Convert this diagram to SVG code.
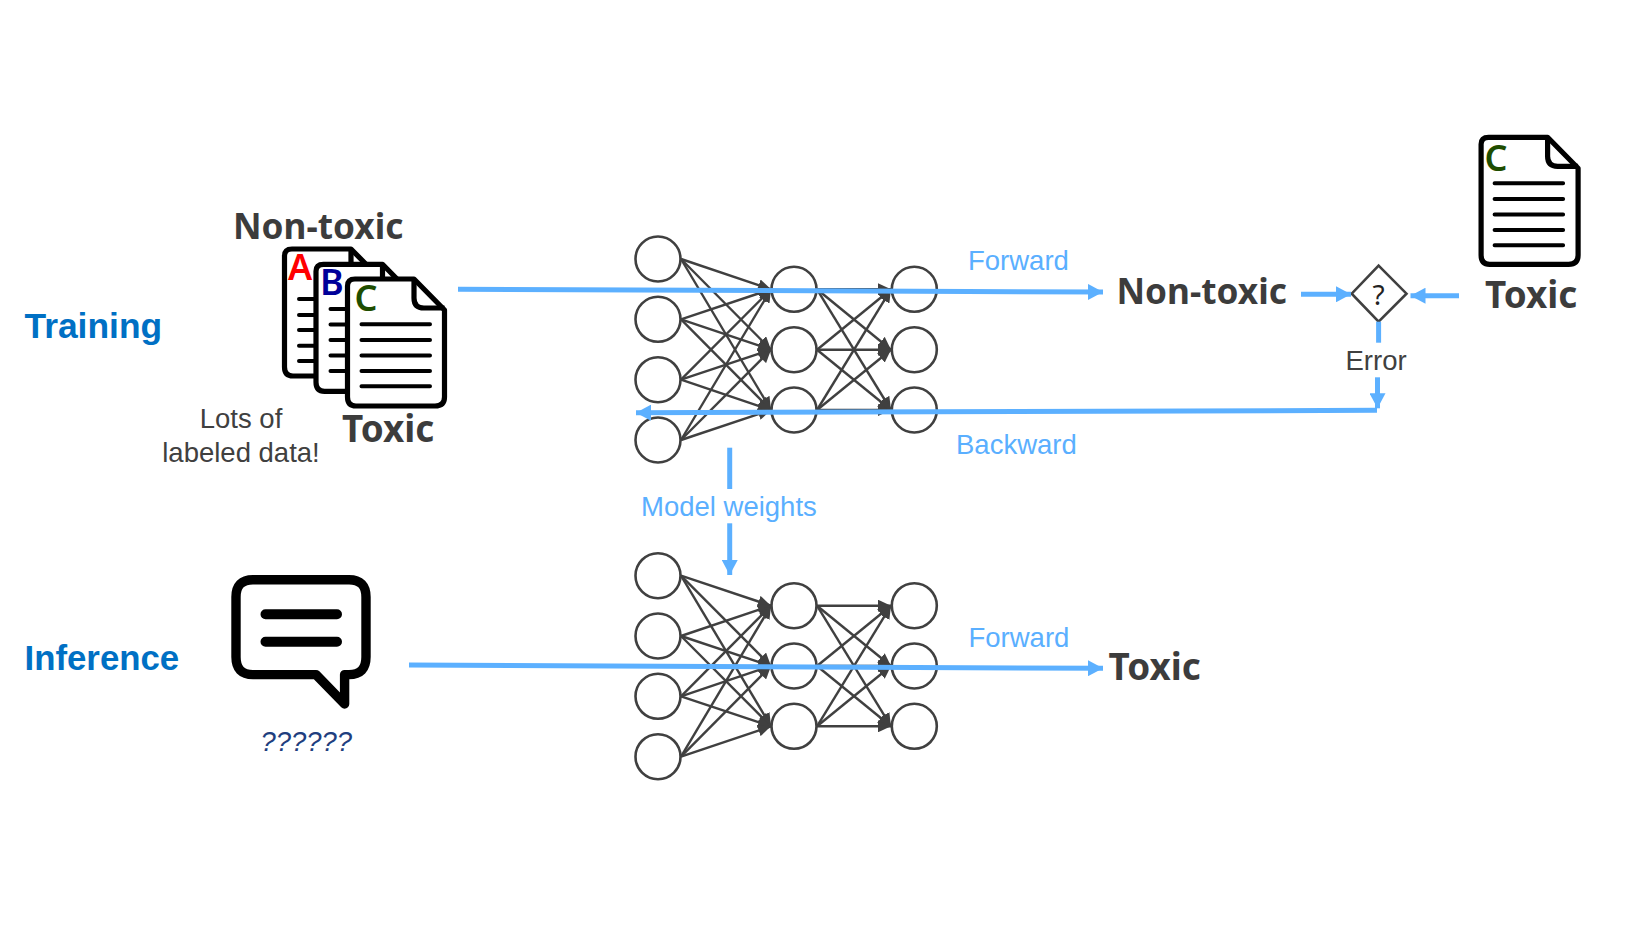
<svg xmlns="http://www.w3.org/2000/svg" width="1648" height="927" viewBox="0 0 1648 927">
<style>
.ph{font-family:"Liberation Sans",Arial,sans-serif;font-weight:700;font-size:34.800px;fill:#0070c4}
.lbl{font-family:"Noto Sans",sans-serif;font-weight:700;font-size:35.200px;fill:#3c3c3c}
.tx{font-size:36.800px}
.blue{font-family:"Liberation Sans",Arial,sans-serif;font-size:27.500px;fill:#5aafff}
.grey{font-family:"Liberation Sans",Arial,sans-serif;font-size:27.500px;fill:#404040}
.letter{font-family:"Noto Sans",sans-serif;font-size:36px;font-weight:600}
.n{fill:#fff;stroke:#404040;stroke-width:2.600}
.e{stroke:#404040;stroke-width:2.400;fill:none;marker-end:url(#ah)}
.f{stroke:#5cb0ff;stroke-width:5;fill:none}
.fa{marker-end:url(#bh)}
.doc{fill:#fff;stroke:#000;stroke-width:5.200;stroke-linejoin:round}
.dl{stroke:#000;stroke-width:4;stroke-linecap:round;fill:none}
</style>
<defs>
<marker id="ah" markerUnits="userSpaceOnUse" markerWidth="13" markerHeight="12" refX="13" refY="6" orient="auto"><path d="M0 0L13 6L0 12z" fill="#404040"/></marker>
<marker id="bh" markerUnits="userSpaceOnUse" markerWidth="15" markerHeight="16" refX="15" refY="8" orient="auto"><path d="M0 0L15 8L0 16z" fill="#5cb0ff"/></marker>
<path id="page" class="doc" d="M355 279H414L444.500 310V397Q444.500 406 435 406H356Q347.500 406 347.500 397V286Q347.500 279 355 279Z"/>
<path id="fold" d="M414 279V298Q414 308 424 308H444.500" fill="none" stroke="#000" stroke-width="5.200"/>
<path id="lines" class="dl" d="M361.500 324.300H430M361.500 340H430M361.500 355.500H430M361.500 371H430M361.500 386.300H430"/>
</defs>
<rect width="1648" height="927" fill="#fff"/>

<g id="training-label"><text class="ph" x="24.500" y="338" style="font-size:35.400px">Training</text></g>
<g id="inference-label"><text class="ph" x="24.500" y="670.300">Inference</text></g>

<g id="doc-a"><use href="#page" transform="translate(-63 -30)"/><use href="#fold" transform="translate(-63 -30)"/><path class="dl" d="M299 299H329M299 315H329M299 330H329M299 345.700H329M299 361H329"/><text class="letter" x="288" y="280" fill="#ff0000">A</text></g>
<g id="doc-b"><use href="#page" transform="translate(-31.500 -14.700)"/><use href="#fold" transform="translate(-31.500 -14.700)"/><path class="dl" d="M330.500 309H360M330.500 324.500H360M330.500 340H360M330.500 355.500H360M330.500 371H360"/><text class="letter" x="320" y="295" fill="#000099">B</text></g>
<g id="doc-c"><use href="#page"/><use href="#fold"/><use href="#lines"/><text class="letter" x="354.500" y="311" fill="#1e4d00">C</text></g>
<g id="doc-target"><use href="#page" transform="translate(1133.600 -141.700)"/><use href="#fold" transform="translate(1133.600 -141.700)"/><use href="#lines" transform="translate(1133.100 -141)"/><text class="letter" x="1484.500" y="171" fill="#1e4d00">C</text></g>

<text class="lbl" x="233" y="239">Non-toxic</text>
<text class="lbl tx" x="342" y="441.500">Toxic</text>
<text class="grey" x="241" y="427.500" text-anchor="middle">Lots of</text>
<text class="grey" x="241" y="461.500" text-anchor="middle">labeled data!</text>
<text class="lbl" x="1116.500" y="304">Non-toxic</text>
<text class="lbl tx" x="1485" y="308">Toxic</text>
<text class="lbl tx" x="1108.500" y="680">Toxic</text>
<text class="grey" x="1345.500" y="370">Error</text>

<g id="bubble"><path d="M253 579.700H349Q366 579.700 366 597V657Q366 674.600 349 674.600H344.600V704L316 674.600H253Q236 674.600 236 657V597Q236 579.700 253 579.700Z" fill="#fff" stroke="#000" stroke-width="9.400" stroke-linejoin="round"/><path d="M265.500 614.300H337M265.500 641.700H337" stroke="#000" stroke-width="10" stroke-linecap="round"/></g>
<text x="260.500" y="750.700" font-family="Liberation Sans,Arial,sans-serif" font-style="italic" font-size="27.400" fill="#1f3f7f">??????</text>

<g id="nn-connectors">
<path class="e" d="M681 259L771 289.300"/><path class="e" d="M681 259L771 349.700"/><path class="e" d="M681 259L771 410"/>
<path class="e" d="M681 319.300L771 289.300"/><path class="e" d="M681 319.300L771 349.700"/><path class="e" d="M681 319.300L771 410"/>
<path class="e" d="M681 379.700L771 289.300"/><path class="e" d="M681 379.700L771 349.700"/><path class="e" d="M681 379.700L771 410"/>
<path class="e" d="M681 440L771 289.300"/><path class="e" d="M681 440L771 349.700"/><path class="e" d="M681 440L771 410"/>
<path class="e" d="M817 289.300L891 289.300"/><path class="e" d="M817 289.300L891 349.700"/><path class="e" d="M817 289.300L891 410"/>
<path class="e" d="M817 349.700L891 289.300"/><path class="e" d="M817 349.700L891 349.700"/><path class="e" d="M817 349.700L891 410"/>
<path class="e" d="M817 410L891 289.300"/><path class="e" d="M817 410L891 349.700"/><path class="e" d="M817 410L891 410"/>
<path class="e" d="M681 575.700L771 605.700"/><path class="e" d="M681 575.700L771 666"/><path class="e" d="M681 575.700L771 726.300"/>
<path class="e" d="M681 636L771 605.700"/><path class="e" d="M681 636L771 666"/><path class="e" d="M681 636L771 726.300"/>
<path class="e" d="M681 696.300L771 605.700"/><path class="e" d="M681 696.300L771 666"/><path class="e" d="M681 696.300L771 726.300"/>
<path class="e" d="M681 756.700L771 605.700"/><path class="e" d="M681 756.700L771 666"/><path class="e" d="M681 756.700L771 726.300"/>
<path class="e" d="M817 605.700L891 605.700"/><path class="e" d="M817 605.700L891 666"/><path class="e" d="M817 605.700L891 726.300"/>
<path class="e" d="M817 666L891 605.700"/><path class="e" d="M817 666L891 666"/><path class="e" d="M817 666L891 726.300"/>
<path class="e" d="M817 726.300L891 605.700"/><path class="e" d="M817 726.300L891 666"/><path class="e" d="M817 726.300L891 726.300"/>
</g>

<g id="nn-train">
<g id="t11"><circle class="n" cx="658" cy="259" r="22.500"/></g>
<g id="t12"><circle class="n" cx="658" cy="319.300" r="22.500"/></g>
<g id="t13"><circle class="n" cx="658" cy="379.700" r="22.500"/></g>
<g id="t14"><circle class="n" cx="658" cy="440" r="22.500"/></g>
<g id="t21"><circle class="n" cx="794" cy="289.300" r="22.500"/></g>
<g id="t22"><circle class="n" cx="794" cy="349.700" r="22.500"/></g>
<g id="t23"><circle class="n" cx="794" cy="410" r="22.500"/></g>
<g id="t31"><circle class="n" cx="914.300" cy="289.300" r="22.500"/></g>
<g id="t32"><circle class="n" cx="914.300" cy="349.700" r="22.500"/></g>
<g id="t33"><circle class="n" cx="914.300" cy="410" r="22.500"/></g>
</g>
<g id="nn-infer">
<g id="i11"><circle class="n" cx="658" cy="575.700" r="22.500"/></g>
<g id="i12"><circle class="n" cx="658" cy="636" r="22.500"/></g>
<g id="i13"><circle class="n" cx="658" cy="696.300" r="22.500"/></g>
<g id="i14"><circle class="n" cx="658" cy="756.700" r="22.500"/></g>
<g id="i21"><circle class="n" cx="794" cy="605.700" r="22.500"/></g>
<g id="i22"><circle class="n" cx="794" cy="666" r="22.500"/></g>
<g id="i23"><circle class="n" cx="794" cy="726.300" r="22.500"/></g>
<g id="i31"><circle class="n" cx="914.300" cy="605.700" r="22.500"/></g>
<g id="i32"><circle class="n" cx="914.300" cy="666" r="22.500"/></g>
<g id="i33"><circle class="n" cx="914.300" cy="726.300" r="22.500"/></g>
</g>

<g id="compare"><path d="M1378.600 265.700L1406.500 293.700L1378.600 321.700L1351.700 293.700Z" fill="#fff" stroke="#404040" stroke-width="2.600"/><text x="1378.600" y="305" text-anchor="middle" font-family="Noto Sans,sans-serif" font-size="28" fill="#222">?</text></g>

<g id="flow-connectors">
<path class="f fa" d="M458 289.300L1103 292"/>
<path class="f fa" d="M1377 410.300L636 412.700"/>
<path class="f" d="M729.700 447.700V489"/>
<path class="f fa" d="M729.700 523.300V575"/>
<path class="f fa" d="M1301 294.300H1351"/>
<path class="f fa" d="M1459 295.700H1410.500"/>
<path class="f" d="M1378.600 321.700V342.700"/>
<path class="f fa" d="M1377.500 377.300V408.300"/>
<path class="f fa" d="M409 665L1103 668.300"/>
</g>

<text class="blue" x="968" y="270">Forward</text>
<text class="blue" x="956" y="454">Backward</text>
<text class="blue" x="641" y="516">Model weights</text>
<text class="blue" x="968.500" y="647">Forward</text>
</svg>
